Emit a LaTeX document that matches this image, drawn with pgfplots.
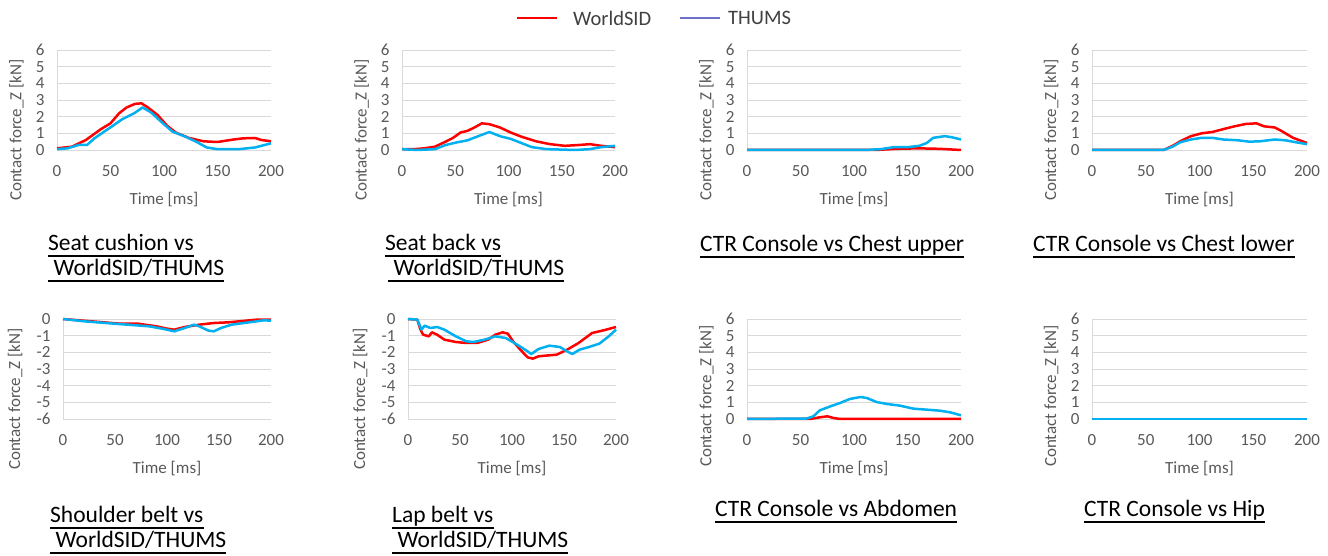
\documentclass[border=0pt]{standalone}
\usepackage{fontspec}
\setmainfont{Carlito}
\usepackage{pgfplots}
\pgfplotsset{compat=1.18}

\definecolor{wsred}{RGB}{255,0,0}
\definecolor{thblue}{RGB}{0,176,240}
\definecolor{legblue}{RGB}{112,112,200}
\definecolor{txtgray}{RGB}{89,89,89}
\definecolor{legtext}{RGB}{64,64,64}
\definecolor{gridgray}{RGB}{217,217,217}

\newcommand\axfont{\fontsize{17}{17}\selectfont}
\newcommand\capfont{\fontsize{23.5}{23.5}\selectfont}
% caption with a flat underline (Word style)
\newcommand\capt[3]{%
  \node[anchor=base west, inner sep=0pt, font=\capfont] (c) at (#1pt,#2pt) {#3};
  \draw[line width=1.4pt] ([yshift=-5pt]c.base west) -- ([yshift=-5pt]c.base east);}

\pgfplotsset{
  panel/.style={
    scale only axis, height=100pt,
    xmin=0, xmax=200, xtick={0,50,100,150,200},
    axis x line*=bottom, axis y line*=left,
    x axis line style={draw=none},
    y axis line style={-, draw=gridgray, line width=0.8pt},
    ymajorgrids, grid style={draw=gridgray, line width=0.8pt},
    major tick length=0pt,
    tick label style={font=\axfont, text=txtgray},
    /pgf/number format/assume math mode=true,
    xticklabel style={yshift=-12pt},
    yticklabel style={xshift=-9pt},
    xlabel={Time [ms]}, ylabel={Contact force\_Z [kN]},
    label style={font=\axfont, text=txtgray},
    x label style={at={(axis description cs:0.5,0)}, anchor=center, yshift=-50pt},
    every axis plot/.append style={line width=2.5pt, line join=round},
    clip=false,
  },
  pos/.style={ymin=0, ymax=6, ytick={0,1,2,3,4,5,6}},
  neg/.style={ymin=-6, ymax=0, ytick={-6,-5,-4,-3,-2,-1,0}},
  ylab/.style 2 args={y label style={at={(axis description cs:#1,#2)}, anchor=center}},
}

\begin{document}
\begin{tikzpicture}
\path (0pt,0pt) rectangle (1328pt,556pt);

% ---- legend
\begin{scope}[font=\fontsize{20.5}{20.5}\selectfont]
\draw[wsred, line width=2.5pt] (517pt,538pt) -- (557pt,538pt);
\node[anchor=west, inner sep=0pt, text=legtext] at (573pt,538pt) {WorldSID};
\draw[legblue, line width=2.5pt] (680pt,538pt) -- (720pt,538pt);
\node[anchor=west, inner sep=0pt, text=legtext] at (728pt,538pt) {THUMS};
\end{scope}

% ---- Seat cushion
\begin{axis}[panel, pos, width=214pt, at={(57pt,406pt)}, anchor=south west, ylab={-0.19}{0.2}]
\addplot[wsred] coordinates {(0,0.1)(14,0.2)(27,0.6)(41,1.25)(50,1.6)(58,2.2)(65,2.55)(73,2.77)(79,2.8)(85,2.55)(94,2.1)(103,1.45)(111,1.05)(123,0.73)(137,0.52)(150,0.48)(164,0.62)(174,0.7)(185,0.72)(191,0.6)(200,0.52)};
\addplot[thblue] coordinates {(0,0.05)(10,0.1)(20,0.3)(28,0.3)(35,0.7)(44,1.1)(51,1.4)(61,1.85)(72,2.2)(80,2.55)(88,2.25)(99,1.6)(108,1.1)(120,0.8)(130,0.5)(140,0.15)(150,0.05)(170,0.05)(185,0.15)(200,0.4)};
\end{axis}

% ---- Seat back
\begin{axis}[panel, pos, width=213pt, at={(402pt,406pt)}, anchor=south west, ylab={-0.19}{0.2}]
\addplot[wsred] coordinates {(0,0.05)(11,0.05)(21,0.1)(31,0.2)(41,0.5)(48,0.73)(55,1.05)(61.5,1.15)(68,1.35)(75,1.6)(82,1.55)(92,1.35)(102,1.05)(112,0.8)(126,0.52)(139,0.35)(153,0.25)(166,0.3)(176.5,0.35)(187,0.25)(200,0.17)};
\addplot[thblue] coordinates {(0,0.05)(14,0)(31,0.05)(41,0.3)(51,0.45)(61.5,0.58)(71.6,0.83)(82,1.08)(92,0.83)(102,0.67)(112,0.42)(122,0.17)(136,0.05)(163,0)(176,0.05)(187,0.17)(200,0.25)};
\end{axis}

% ---- Chest upper
\begin{axis}[panel, pos, width=214pt, at={(747pt,406pt)}, anchor=south west, ylab={-0.19}{0.2}]
\addplot[wsred] coordinates {(0,0)(120,0)(140,0.07)(160,0.1)(180,0.07)(200,0)};
\addplot[thblue] coordinates {(0,0)(110,0)(125,0.05)(137,0.17)(150,0.17)(161,0.25)(168,0.42)(174,0.73)(185,0.83)(191,0.77)(200,0.63)};
\end{axis}

% ---- Chest lower
\begin{axis}[panel, pos, width=215pt, at={(1092pt,406pt)}, anchor=south west, ylab={-0.19}{0.2}]
\addplot[wsred] coordinates {(0,0)(66.6,0)(75,0.25)(82,0.52)(92,0.83)(102,1.0)(112,1.08)(122,1.25)(132.5,1.42)(143,1.56)(153,1.6)(160,1.42)(170,1.35)(176,1.15)(187,0.73)(200,0.42)};
\addplot[thblue] coordinates {(0,0)(66.6,0)(75,0.2)(82,0.46)(92,0.63)(102,0.73)(112,0.73)(122,0.63)(136,0.58)(146,0.5)(156,0.52)(170,0.63)(180,0.58)(190,0.46)(200,0.35)};
\end{axis}

% ---- Shoulder belt
\begin{axis}[panel, neg, width=208pt, at={(63pt,137pt)}, anchor=south west, ylab={-0.23}{0.2}]
\addplot[wsred] coordinates {(0,0)(27.6,-0.14)(55,-0.28)(72,-0.28)(90,-0.44)(100,-0.58)(107,-0.64)(117,-0.48)(131,-0.34)(145,-0.24)(159,-0.2)(176,-0.1)(186,-0.04)(200,-0.04)};
\addplot[thblue] coordinates {(0,0)(21,-0.14)(41,-0.24)(62,-0.34)(83,-0.44)(97,-0.6)(107,-0.74)(117,-0.54)(126,-0.34)(131,-0.44)(140,-0.7)(145,-0.74)(152,-0.54)(162,-0.34)(179,-0.2)(193,-0.08)(200,-0.1)};
\end{axis}

% ---- Lap belt
\begin{axis}[panel, neg, width=208pt, at={(408pt,137pt)}, anchor=south west, ylab={-0.23}{0.2}]
\addplot[wsred] coordinates {(0,0)(9,-0.04)(12,-0.64)(14.5,-0.94)(20,-1.04)(23,-0.8)(28,-0.94)(35,-1.24)(46,-1.38)(56,-1.44)(66.5,-1.44)(77,-1.24)(84,-0.94)(91,-0.8)(96,-0.88)(101,-1.34)(108,-1.84)(115,-2.3)(120,-2.38)(125.5,-2.24)(132,-2.2)(143,-2.14)(153,-1.84)(164,-1.44)(170.5,-1.14)(177,-0.84)(188,-0.68)(200,-0.48)};
\addplot[thblue] coordinates {(0,0)(9,-0.04)(13,-0.64)(16,-0.4)(21.5,-0.54)(28,-0.48)(35,-0.64)(46,-1.04)(56,-1.34)(63,-1.38)(73.5,-1.24)(84,-1.04)(94,-1.14)(105,-1.54)(115,-1.94)(118.5,-2.1)(125.5,-1.8)(136,-1.6)(146,-1.68)(153,-1.94)(158,-2.1)(165,-1.84)(174,-1.68)(184,-1.48)(193,-1.04)(200,-0.64)};
\end{axis}

% ---- Abdomen
\begin{axis}[panel, pos, width=214pt, at={(747pt,137pt)}, anchor=south west, ylab={-0.19}{0.23}]
\addplot[wsred] coordinates {(0,0)(59,0)(68,0.1)(75,0.16)(81,0.06)(87,0)(200,0)};
\addplot[thblue] coordinates {(0,0)(56,0.03)(62,0.16)(68,0.52)(78,0.76)(87,0.96)(96,1.2)(106,1.32)(112,1.26)(121,1.02)(131,0.9)(143,0.8)(155.5,0.62)(168,0.56)(180,0.5)(190,0.4)(200,0.22)};
\end{axis}

% ---- Hip
\begin{axis}[panel, pos, width=215pt, at={(1092pt,137pt)}, anchor=south west, ylab={-0.19}{0.23}]
\addplot[wsred] coordinates {(0,0)(200,0)};
\addplot[thblue] coordinates {(0,0)(200,0)};
\end{axis}

% ---- captions
\capt{48}{305}{Seat cushion vs}
\capt{48}{280}{\hspace*{5.5pt}WorldSID/THUMS}
\capt{385}{305}{Seat back vs}
\capt{388}{280}{\hspace*{5.5pt}WorldSID/THUMS}
\capt{700}{304}{CTR Console vs Chest upper}
\capt{1033}{304}{CTR Console vs Chest lower}
\capt{50}{33}{Shoulder belt vs}
\capt{50}{8}{\hspace*{5.5pt}WorldSID/THUMS}
\capt{392}{33}{Lap belt vs}
\capt{392}{8}{\hspace*{5.5pt}WorldSID/THUMS}
\capt{715}{39}{CTR Console vs Abdomen}
\capt{1084}{39}{CTR Console vs Hip}
\end{tikzpicture}
\end{document}
